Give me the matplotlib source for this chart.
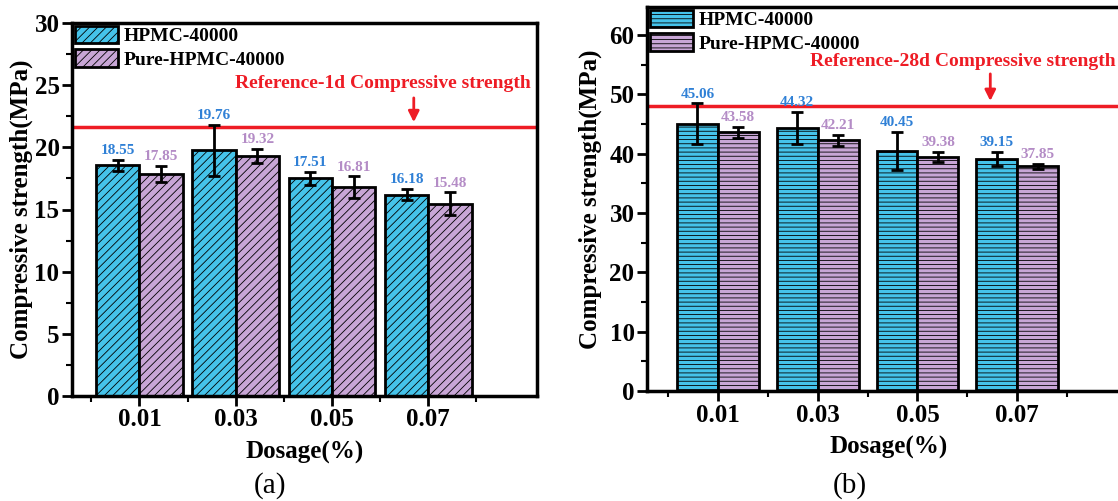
import numpy as np
import matplotlib.pyplot as plt
from matplotlib.patches import Patch

plt.rcParams['font.family'] = ['Liberation Serif', 'DejaVu Serif']
plt.rcParams['hatch.linewidth'] = 0.6

dosage = ['0.01', '0.03', '0.05', '0.07']
series = ['HPMC-40000', 'Pure-HPMC-40000']

# (a) 1d compressive strength
d1_hpmc = [18.55, 19.76, 17.51, 16.18]
d1_pure = [17.85, 19.32, 16.81, 15.48]
d1_hpmc_err = [0.45, 2.05, 0.5, 0.45]
d1_pure_err = [0.65, 0.55, 0.85, 0.9]
d1_ref = 21.6

# (b) 28d compressive strength
d28_hpmc = [45.06, 44.32, 40.45, 39.15]
d28_pure = [43.58, 42.21, 39.38, 37.85]
d28_hpmc_err = [3.4, 2.7, 3.2, 1.2]
d28_pure_err = [0.95, 0.95, 0.85, 0.4]
d28_ref = 48.0

CYAN = '#45C3EA'
PURPLE = '#C8A6D6'
BLUE_TXT = '#2F80D6'
PURP_TXT = '#B48CC6'
RED = '#EE1C25'

fig = plt.figure(figsize=(11.18, 5.01), dpi=100)
ax1 = fig.add_axes([72/1118, 105/501, 465/1118, 373/501])
ax2 = fig.add_axes([647/1118, 110/501, 483/1118, 384/501])


def panel(ax, a, b, ea, eb, width, hatch, ylim, ymajor, yminor, xlim, ylab_x, xlab_y):
    x = np.arange(1, len(dosage) + 1)
    ax.bar(x - width/2, a, width, color=CYAN, edgecolor='k', linewidth=2, hatch=hatch, zorder=2)
    ax.bar(x + width/2, b, width, color=PURPLE, edgecolor='k', linewidth=2, hatch=hatch, zorder=2)
    ax.errorbar(x - width/2, a, yerr=ea, fmt='none', ecolor='k', elinewidth=2, capsize=4, capthick=2, zorder=3)
    ax.errorbar(x + width/2, b, yerr=eb, fmt='none', ecolor='k', elinewidth=2, capsize=4, capthick=2, zorder=3)
    for xi, v, e in zip(x - width/2, a, ea):
        ax.annotate(f'{v:.2f}', (xi, v + e), xytext=(0, 2), textcoords='offset points',
                    ha='center', va='bottom', color=BLUE_TXT, fontsize=11, fontweight='bold')
    for xi, v, e in zip(x + width/2, b, eb):
        ax.annotate(f'{v:.2f}', (xi, v + e), xytext=(0, 2), textcoords='offset points',
                    ha='center', va='bottom', color=PURP_TXT, fontsize=11, fontweight='bold')
    ax.set_xlim(*xlim)
    ax.set_ylim(*ylim)
    ax.set_xticks(x)
    ax.set_xticklabels(dosage)
    ax.set_xticks(np.arange(0.5, len(dosage) + 1.5, 1.0), minor=True)
    ax.set_yticks(np.arange(0, ymajor[1] + 0.1, ymajor[0]))
    ax.set_yticks(np.arange(0, ylim[1] + 0.1, yminor), minor=True)
    ax.tick_params(which='major', direction='out', length=7, width=2, labelsize=18, pad=2)
    ax.tick_params(which='minor', direction='out', length=4, width=1.5)
    for lab in ax.get_xticklabels() + ax.get_yticklabels():
        lab.set_fontweight('bold')
    for s in ax.spines.values():
        s.set_linewidth(2.5)
    ax.set_xlabel('Dosage(%)', fontsize=18, fontweight='bold')
    ax.set_ylabel('Compressive strength(MPa)', fontsize=18, fontweight='bold')
    ax.yaxis.set_label_coords(ylab_x, 0.5)
    ax.xaxis.set_label_coords(0.5, xlab_y)
    handles = [Patch(facecolor=CYAN, edgecolor='k', linewidth=2, hatch=hatch),
               Patch(facecolor=PURPLE, edgecolor='k', linewidth=2, hatch=hatch)]
    ax.legend(handles, series, loc='upper left', frameon=False,
              prop={'weight': 'bold', 'size': 14}, handlelength=2.2, handleheight=1.0,
              labelspacing=0.2, borderpad=0.0, borderaxespad=0.15, handletextpad=0.3)
    return x


panel(ax1, d1_hpmc, d1_pure, d1_hpmc_err, d1_pure_err, 0.45, '////', (0, 30), (5, 30), 2.5,
      (0.30, 5.13), -0.084, -0.12)
ax1.axhline(d1_ref, color=RED, lw=2.5, zorder=1)
ax1.text(3.53, 25.1, 'Reference-1d Compressive strength', color=RED, fontsize=14,
         fontweight='bold', ha='center', va='center')
ax1.annotate('', xy=(3.85, d1_ref + 0.2), xytext=(3.85, 24.2),
             arrowprops=dict(arrowstyle='-|>', color=RED, lw=2, mutation_scale=16))

panel(ax2, d28_hpmc, d28_pure, d28_hpmc_err, d28_pure_err, 0.41, '----', (0, 64.7), (10, 60), 5,
      (0.29, 5.13), -0.093, -0.117)
ax2.axhline(d28_ref, color=RED, lw=2.5, zorder=1)
ax2.text(1.92, 55.6, 'Reference-28d Compressive strength', color=RED, fontsize=14,
         fontweight='bold', ha='left', va='center')
ax2.annotate('', xy=(3.73, d28_ref + 0.4), xytext=(3.73, 53.9),
             arrowprops=dict(arrowstyle='-|>', color=RED, lw=2, mutation_scale=16))

fig.text(270/1118, 1 - 486/501, '(a)', fontsize=21, ha='center', va='center')
fig.text(850/1118, 1 - 486/501, '(b)', fontsize=21, ha='center', va='center')

fig.savefig('out.png', dpi=100)
